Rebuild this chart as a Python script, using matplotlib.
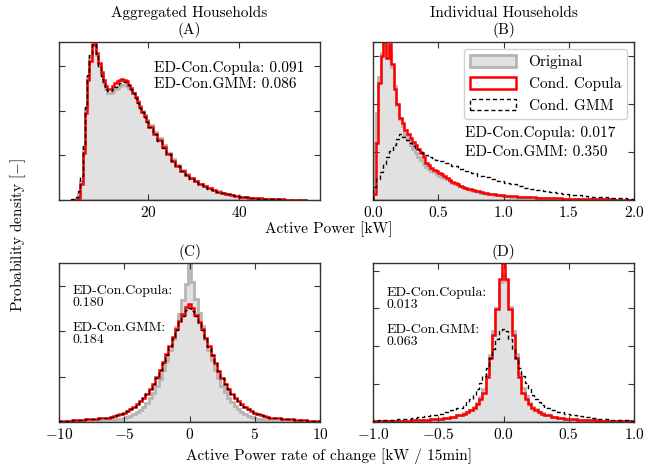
"""Marginal densities: original vs. conditional copula vs. conditional GMM.
(A) aggregated power, (B) individual power, (C)/(D) rate of change.
"""
import numpy as np
import matplotlib
matplotlib.use('Agg')
import matplotlib.pyplot as plt
from matplotlib.ticker import MultipleLocator

plt.rcParams.update({
    'font.family': 'serif',
    'font.serif': ['cmr10', 'DejaVu Serif'],
    'mathtext.fontset': 'cm',
    'axes.formatter.use_mathtext': True,
    'font.size': 11,
    'axes.linewidth': 1.0,
    'axes.edgecolor': '0.2',
})

# ---- data: bin densities, relative to each panel's highest bin ----
# (A) aggregated households, active power [kW]
A_EDGES = np.concatenate([np.linspace(3, 19.5, 34), np.linspace(20, 55, 36)])
A_PEAK = 0.071
A_ORIG = [0, 0, 0.005, 0.03, 0.12, 0.33, 0.58, 0.78, 0.91, 0.99,
          1.0, 0.92, 0.85, 0.79, 0.74, 0.70, 0.68, 0.675, 0.685, 0.70,
          0.71, 0.72, 0.725, 0.725, 0.72, 0.71, 0.695, 0.675, 0.65, 0.625,
          0.595, 0.565, 0.535, 0.505,
          0.475, 0.43, 0.39, 0.345, 0.30, 0.26, 0.222, 0.19, 0.163, 0.14,
          0.12, 0.102, 0.087, 0.074, 0.063, 0.054, 0.046, 0.039, 0.033, 0.027,
          0.022, 0.018, 0.015, 0.012, 0.010, 0.008, 0.0065, 0.0052, 0.0042,
          0.0034, 0.0027, 0.0021, 0.0016, 0.0012, 0.0009]
A_COPULA = [0, 0, 0, 0.01, 0.10, 0.30, 0.55, 0.76, 0.88, 0.98,
            0.99, 0.93, 0.87, 0.81, 0.76, 0.72, 0.70, 0.70, 0.72, 0.74,
            0.75, 0.76, 0.765, 0.76, 0.75, 0.73, 0.71, 0.68, 0.65, 0.62,
            0.59, 0.56, 0.53, 0.50,
            0.465, 0.42, 0.38, 0.335, 0.29, 0.25, 0.215, 0.185, 0.16, 0.138,
            0.118, 0.10, 0.086, 0.073, 0.062, 0.053, 0.045, 0.038, 0.032, 0.027,
            0.022, 0.018, 0.015, 0.012, 0.010, 0.008, 0.0065, 0.0052, 0.0042,
            0.0034, 0.0027, 0.0021, 0.0016, 0.0012, 0.0009]
A_GMM = [0.004, 0.008, 0.02, 0.06, 0.15, 0.35, 0.59, 0.79, 0.92, 0.99,
         0.985, 0.915, 0.845, 0.785, 0.74, 0.705, 0.69, 0.69, 0.70, 0.715,
         0.73, 0.74, 0.745, 0.745, 0.74, 0.725, 0.70, 0.675, 0.645, 0.615,
         0.585, 0.555, 0.525, 0.495,
         0.462, 0.418, 0.375, 0.332, 0.29, 0.25, 0.215, 0.185, 0.158, 0.136,
         0.116, 0.099, 0.085, 0.072, 0.061, 0.052, 0.044, 0.037, 0.031, 0.026,
         0.021, 0.017, 0.014, 0.011, 0.009, 0.007, 0.0055, 0.0043, 0.0033,
         0.0025, 0.0019, 0.0014, 0.001, 0.0007, 0.0005]

# (B) individual households, active power [kW]
B_EDGES = np.concatenate([np.linspace(0, 0.98, 50), np.linspace(1, 2, 21)])
B_GMM_EDGES = np.concatenate([np.linspace(0, 0.475, 20), np.linspace(0.5, 2, 31)])
B_PEAK = 3.3
B_ORIG = [0.36, 0.55, 0.78, 0.93, 0.98, 0.97, 0.93, 0.84, 0.72, 0.60,
          0.51, 0.47, 0.41, 0.38, 0.35, 0.325, 0.30, 0.275, 0.253, 0.225,
          0.21, 0.197, 0.185, 0.175, 0.165, 0.155, 0.147, 0.139, 0.13, 0.12,
          0.11, 0.10, 0.093, 0.086, 0.08, 0.074, 0.068, 0.063, 0.058, 0.054,
          0.05, 0.047, 0.044, 0.041, 0.038, 0.035, 0.033, 0.031, 0.029, 0.027,
          0.024, 0.021, 0.019, 0.017, 0.015, 0.013, 0.012, 0.010, 0.009, 0.008,
          0.007, 0.0062, 0.0055, 0.0048, 0.0043, 0.0038, 0.0034, 0.003, 0.0027,
          0.0024]
B_COPULA = [0.04, 0.36, 0.74, 0.91, 1.0, 0.90, 0.99, 0.86, 0.70, 0.61,
            0.52, 0.485, 0.44, 0.42, 0.39, 0.37, 0.345, 0.32, 0.295, 0.272,
            0.235, 0.22, 0.205, 0.193, 0.182, 0.172, 0.162, 0.152, 0.14, 0.128,
            0.117, 0.107, 0.099, 0.091, 0.084, 0.078, 0.072, 0.067, 0.062, 0.058,
            0.054, 0.050, 0.047, 0.044, 0.041, 0.038, 0.035, 0.033, 0.031, 0.029,
            0.026, 0.023, 0.020, 0.018, 0.016, 0.014, 0.012, 0.011, 0.0095,
            0.0085, 0.0075, 0.0065, 0.0058, 0.005, 0.0045, 0.004, 0.0035,
            0.003, 0.0027, 0.0024]
B_GMM = [0.08, 0.13, 0.18, 0.225, 0.27, 0.31, 0.35, 0.385, 0.415, 0.40,
         0.38, 0.36, 0.34, 0.322, 0.307, 0.295, 0.284, 0.274, 0.264, 0.255,
         0.247, 0.232, 0.215, 0.198, 0.182, 0.168, 0.155, 0.143, 0.131, 0.12,
         0.109, 0.099, 0.089, 0.079, 0.071, 0.063, 0.056, 0.05, 0.044, 0.039,
         0.034, 0.030, 0.026, 0.022, 0.019, 0.016, 0.014, 0.012, 0.010, 0.009]

# (C) aggregated households, rate of change [kW / 15min]
C_EDGES = np.concatenate([[-10, -9, -8, -7], np.linspace(-6.125, 6.125, 50),
                          [7, 8, 9, 10]])
C_PEAK = 0.28
C_ORIG = [0.002, 0.003, 0.005, 0.008,
          0.010, 0.013, 0.016, 0.020, 0.025, 0.031, 0.039, 0.049, 0.062, 0.078,
          0.097, 0.12, 0.15, 0.185, 0.225, 0.27, 0.325, 0.385, 0.45, 0.52,
          0.60, 0.68, 0.77, 0.87, 1.0, 0.88, 0.775, 0.685, 0.605, 0.525,
          0.455, 0.39, 0.33, 0.275, 0.228, 0.188, 0.153, 0.123, 0.099, 0.08,
          0.064, 0.05, 0.04, 0.032, 0.026, 0.021, 0.017, 0.013, 0.010,
          0.008, 0.005, 0.003, 0.002]
C_COPULA = [0.006, 0.010, 0.016, 0.025,
            0.033, 0.038, 0.044, 0.051, 0.059, 0.069, 0.081, 0.095, 0.112, 0.131,
            0.153, 0.178, 0.207, 0.242, 0.281, 0.327, 0.375, 0.425, 0.48, 0.535,
            0.588, 0.637, 0.682, 0.725, 0.742, 0.718, 0.676, 0.632, 0.582, 0.53,
            0.475, 0.42, 0.37, 0.323, 0.279, 0.24, 0.206, 0.177, 0.152, 0.13,
            0.111, 0.095, 0.081, 0.069, 0.059, 0.05, 0.043, 0.037, 0.032,
            0.024, 0.016, 0.010, 0.006]
C_GMM = [0.006, 0.010, 0.016, 0.025,
         0.032, 0.037, 0.043, 0.05, 0.058, 0.068, 0.08, 0.094, 0.111, 0.13,
         0.152, 0.177, 0.206, 0.24, 0.279, 0.324, 0.372, 0.422, 0.476, 0.53,
         0.58, 0.627, 0.668, 0.702, 0.716, 0.70, 0.665, 0.625, 0.578, 0.527,
         0.473, 0.42, 0.369, 0.322, 0.278, 0.239, 0.205, 0.176, 0.151, 0.129,
         0.11, 0.094, 0.08, 0.068, 0.058, 0.05, 0.043, 0.037, 0.032,
         0.024, 0.016, 0.010, 0.006]

# (D) individual households, rate of change [kW / 15min]
D_EDGES = np.concatenate([np.linspace(-1.0125, -0.3625, 14),
                          np.linspace(-0.3125, 0.3125, 26),
                          np.linspace(0.3625, 1.0125, 14)])
D_PEAK = 4.2
D_ORIG = [0.0045, 0.005, 0.0055, 0.006, 0.007, 0.008, 0.0095, 0.0115,
          0.0135, 0.0165, 0.02, 0.026, 0.033, 0.043,
          0.054, 0.064, 0.078, 0.095, 0.12, 0.16, 0.21, 0.30, 0.42, 0.57,
          0.72, 0.88, 0.93, 0.885, 0.725, 0.575, 0.425, 0.305, 0.215, 0.163,
          0.122, 0.096, 0.079, 0.065, 0.055,
          0.043, 0.033, 0.026, 0.02, 0.0165, 0.0135, 0.0115, 0.0095, 0.008,
          0.007, 0.006, 0.0055, 0.005, 0.0045]
D_COPULA = [0.005, 0.0055, 0.006, 0.0065, 0.0075, 0.0085, 0.01, 0.012,
            0.014, 0.017, 0.021, 0.027, 0.034, 0.044,
            0.053, 0.062, 0.075, 0.09, 0.115, 0.145, 0.185, 0.28, 0.40, 0.55,
            0.71, 0.90, 1.0, 0.90, 0.71, 0.55, 0.40, 0.28, 0.185, 0.145,
            0.115, 0.09, 0.075, 0.062, 0.053,
            0.044, 0.034, 0.027, 0.021, 0.017, 0.014, 0.012, 0.01, 0.0085,
            0.0075, 0.0065, 0.006, 0.0055, 0.005]
D_GMM = [0.009, 0.011, 0.013, 0.015, 0.018, 0.021, 0.025, 0.03,
         0.036, 0.043, 0.051, 0.062, 0.074, 0.09,
         0.105, 0.123, 0.145, 0.172, 0.205, 0.245, 0.29, 0.34, 0.40, 0.46,
         0.52, 0.57, 0.585, 0.57, 0.52, 0.46, 0.40, 0.34, 0.29, 0.245,
         0.205, 0.172, 0.145, 0.123, 0.105,
         0.09, 0.074, 0.062, 0.051, 0.043, 0.036, 0.03, 0.025, 0.021,
         0.018, 0.015, 0.013, 0.011, 0.009]

ED_TEXT = {
    'A': ['ED-Con.Copula: 0.091', 'ED-Con.GMM: 0.086'],
    'B': ['ED-Con.Copula: 0.017', 'ED-Con.GMM: 0.350'],
    'C': ['ED-Con.Copula:\n0.180', 'ED-Con.GMM:\n0.184'],
    'D': ['ED-Con.Copula:\n0.013', 'ED-Con.GMM:\n0.063'],
}

GRAY_FACE = '#e1e1e1'
GRAY_EDGE = '#b5b5b5'
RED = '#ff0000'


def draw_hist(ax, edges, rel, peak, **kw):
    edges = np.asarray(edges, dtype=float)
    centers = 0.5 * (edges[:-1] + edges[1:])
    weights = np.asarray(rel, dtype=float) * peak
    return ax.hist(centers, bins=edges, weights=weights, **kw)


def panel(ax, edges_orig, orig, edges_cop, cop, edges_gmm, gmm, peak):
    draw_hist(ax, edges_orig, orig, peak, histtype='stepfilled',
              facecolor=GRAY_FACE, edgecolor=GRAY_EDGE, linewidth=2.0,
              label='Original', zorder=1)
    draw_hist(ax, edges_cop, cop, peak, histtype='step', color=RED,
              linewidth=1.8, label='Cond. Copula', zorder=2)
    draw_hist(ax, edges_gmm, gmm, peak, histtype='step', color='k',
              linewidth=1.0, linestyle=(0, (3, 2)), label='Cond. GMM', zorder=3)
    top = max(max(orig), max(cop), max(gmm)) * peak
    ax.set_ylim(0, top)
    ax.tick_params(direction='in', top=True, right=True, length=4,
                   width=0.8, color='0.2', labelsize=11, labelleft=False)


fig = plt.figure(figsize=(6.67, 4.70), dpi=100)
W, H = 667.0, 470.0


def axes_px(x0, y0, x1, y1):
    return fig.add_axes([x0 / W, 1 - y1 / H, (x1 - x0) / W, (y1 - y0) / H])


ax_a = axes_px(59, 42, 320, 200)
ax_b = axes_px(373, 42, 634, 200)
ax_c = axes_px(59, 263, 320, 422)
ax_d = axes_px(373, 263, 634, 422)

# ── (A) ──
panel(ax_a, A_EDGES, A_ORIG, A_EDGES, A_COPULA, A_EDGES, A_GMM, A_PEAK)
ax_a.set_xlim(0.3, 57.9)
ax_a.xaxis.set_major_locator(MultipleLocator(20))
ax_a.yaxis.set_major_locator(MultipleLocator(0.02))
ax_a.set_title('Aggregated Households\n(A)', fontsize=11, pad=6, linespacing=1.15)
for i, s in enumerate(ED_TEXT['A']):
    ax_a.text(0.365, 0.837 - i * 0.105, s, transform=ax_a.transAxes,
              fontsize=11, va='center', ha='left')

# ── (B) ──
panel(ax_b, B_EDGES, B_ORIG, B_EDGES, B_COPULA, B_GMM_EDGES, B_GMM, B_PEAK)
ax_b.set_xlim(0, 2)
ax_b.xaxis.set_major_locator(MultipleLocator(0.5))
ax_b.yaxis.set_major_locator(MultipleLocator(1.0))
ax_b.set_title('Individual Households\n(B)', fontsize=11, pad=6, linespacing=1.15)
for i, s in enumerate(ED_TEXT['B']):
    ax_b.text(0.352, 0.422 - i * 0.116, s, transform=ax_b.transAxes,
              fontsize=11, va='center', ha='left')
ax_b.legend(loc='upper right', fontsize=11, handlelength=3.0,
            handleheight=0.8, borderaxespad=0.45, framealpha=0.9,
            edgecolor='0.8', fancybox=True)

# ── (C) ──
panel(ax_c, C_EDGES, C_ORIG, C_EDGES, C_COPULA, C_EDGES, C_GMM, C_PEAK)
ax_c.set_xlim(-10, 10)
ax_c.xaxis.set_major_locator(MultipleLocator(5))
ax_c.yaxis.set_major_locator(MultipleLocator(0.08))
ax_c.set_title('(C)', fontsize=11, pad=5)
for s, y in zip(ED_TEXT['C'], [0.785, 0.552]):
    ax_c.text(0.051, y, s, transform=ax_c.transAxes, fontsize=10,
              va='center', ha='left', linespacing=0.95)

# ── (D) ──
panel(ax_d, D_EDGES, D_ORIG, D_EDGES, D_COPULA, D_EDGES, D_GMM, D_PEAK)
ax_d.set_xlim(-1, 1)
ax_d.xaxis.set_major_locator(MultipleLocator(0.5))
ax_d.yaxis.set_major_locator(MultipleLocator(1.0))
ax_d.set_title('(D)', fontsize=11, pad=5)
for s, y in zip(ED_TEXT['D'], [0.775, 0.54]):
    ax_d.text(0.05, y, s, transform=ax_d.transAxes, fontsize=10,
              va='center', ha='left', linespacing=0.95)

fig.text(329 / W, 1 - 229 / H, 'Active Power [kW]', ha='center', va='center',
         fontsize=11)
fig.text(329 / W, 1 - 456 / H, 'Active Power rate of change [kW / 15min]',
         ha='center', va='center', fontsize=11)
fig.text(18 / W, 0.5, 'Probability density [$-$]', rotation=90,
         ha='center', va='center', fontsize=11)

fig.savefig('out.png', dpi=100)
plt.close(fig)
